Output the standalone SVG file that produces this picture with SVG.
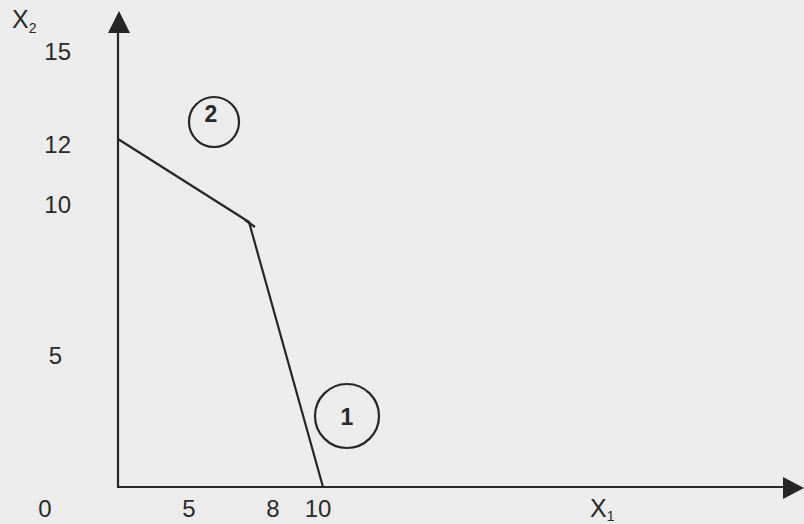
<svg xmlns="http://www.w3.org/2000/svg" width="804" height="524" viewBox="0 0 804 524">
  <style>
    .ln { stroke: #262626; stroke-width: 2.2; fill: none; }
    .lbl { font-family: "Liberation Sans", Arial, sans-serif; font-size: 24px; fill: #2a2a2a; }
    .sub { font-size: 14px; }
    .num { font-family: "Liberation Sans", Arial, sans-serif; font-size: 23px; font-weight: bold; fill: #2a2a2a; text-anchor: middle; }
    .circ { stroke: #262626; stroke-width: 2.2; fill: none; }
  </style>
  <rect x="0" y="0" width="804" height="524" fill="#ececec"/>
  <g id="axes">
    <line class="ln" x1="118" y1="488" x2="118" y2="32"/>
    <path d="M108,33 L119,11 L130,33 Z" fill="#262626"/>
    <line class="ln" x1="118" y1="487" x2="784" y2="487"/>
    <path d="M783,477 L804,488 L783,499 Z" fill="#262626"/>
  </g>
  <g id="connectors">
    <polyline class="ln" points="118,139 249,222 323,487"/>
    <line class="ln" x1="245" y1="220" x2="255" y2="227"/>
  </g>
  <g id="node-1">
    <circle class="circ" cx="347" cy="416" r="32"/>
    <text class="num" x="347" y="425">1</text>
  </g>
  <g id="node-2">
    <circle class="circ" cx="214" cy="122" r="25"/>
    <text class="num" x="211" y="122">2</text>
  </g>
  <g id="labels">
    <text class="lbl" x="12" y="28" style="font-size:25px">X<tspan class="sub" dy="5">2</tspan></text>
    <text class="lbl" x="71" y="60" text-anchor="end">15</text>
    <text class="lbl" x="71" y="153" text-anchor="end">12</text>
    <text class="lbl" x="71" y="213" text-anchor="end">10</text>
    <text class="lbl" x="62" y="364" text-anchor="end">5</text>
    <text class="lbl" x="45" y="517" text-anchor="middle">0</text>
    <text class="lbl" x="189" y="517" text-anchor="middle">5</text>
    <text class="lbl" x="273" y="517" text-anchor="middle">8</text>
    <text class="lbl" x="318" y="517" text-anchor="middle">10</text>
    <text class="lbl" x="590" y="517" style="font-size:25px">X<tspan class="sub" dy="4">1</tspan></text>
  </g>
</svg>
